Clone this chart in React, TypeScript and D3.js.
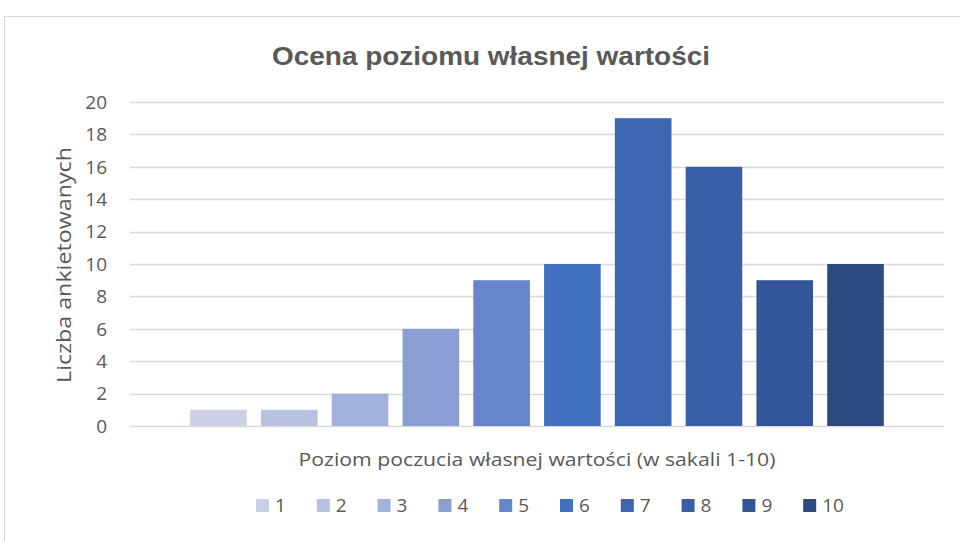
import React, { useEffect, useRef } from 'react'
import * as d3 from 'd3'

const seriesNames = ['1', '2', '3', '4', '5', '6', '7', '8', '9', '10']
const counts = [1, 1, 2, 6, 9, 10, 19, 16, 9, 10]
const barColors = ['#CBD0E6', '#B7C2E1', '#A2B1DB', '#8B9FD4', '#6685CA', '#4371C1', '#3D66B1', '#385EA6', '#33569A', '#2B4B82']
const yTicks = [0, 2, 4, 6, 8, 10, 12, 14, 16, 18, 20]

const W = 960
const H = 541

const App = () => {
  const ref = useRef<SVGSVGElement>(null)

  useEffect(() => {
    const svg = d3.select(ref.current)
    svg.selectAll('*').remove()

    const font = '"Open Sans", "Noto Sans", sans-serif'
    const textColor = '#595959'

    // chart frame
    svg.append('rect')
      .attr('x', 4.5).attr('y', 16.5).attr('width', W + 10).attr('height', H + 10)
      .attr('fill', '#fff').attr('stroke', '#D9D9D9').attr('stroke-width', 1)

    const left = 130, right = 944, top = 102, bottom = 426

    const y = d3.scaleLinear().domain([0, 20]).range([bottom, top])
    const x = d3.scaleBand<string>().domain(seriesNames).range([left, right])
      .paddingInner(0.2).paddingOuter(0.85)

    // gridlines
    svg.append('g').selectAll('line').data(yTicks).enter().append('line')
      .attr('x1', left).attr('x2', right)
      .attr('y1', d => Math.round(y(d)) + 0.5).attr('y2', d => Math.round(y(d)) + 0.5)
      .attr('stroke', '#D9D9D9').attr('stroke-width', 1.3)

    // tick labels
    svg.append('g').selectAll('text').data(yTicks).enter().append('text')
      .attr('x', 107).attr('y', d => y(d)).attr('dy', '0.36em')
      .attr('text-anchor', 'end')
      .style('font-family', font).style('font-size', '19px').style('fill', textColor)
      .text(d => d)

    // bars
    svg.append('g').selectAll('rect').data(counts).enter().append('rect')
      .attr('x', (d, i) => x(seriesNames[i]) as number)
      .attr('width', x.bandwidth())
      .attr('y', d => y(d))
      .attr('height', d => y(0) - y(d))
      .attr('fill', (d, i) => barColors[i])

    // title
    svg.append('text')
      .attr('x', 491).attr('y', 65).attr('text-anchor', 'middle')
      .attr('textLength', 438).attr('lengthAdjust', 'spacingAndGlyphs')
      .style('font-family', '"Liberation Sans", Arial, sans-serif')
      .style('font-weight', 'bold').style('font-size', '25px').style('fill', textColor)
      .text('Ocena poziomu własnej wartości')

    // y axis title
    svg.append('text')
      .attr('transform', 'translate(71,265) rotate(-90)')
      .attr('text-anchor', 'middle')
      .attr('textLength', 236).attr('lengthAdjust', 'spacingAndGlyphs')
      .style('font-family', font).style('font-size', '20px').style('fill', textColor)
      .text('Liczba ankietowanych')

    // x axis title
    svg.append('text')
      .attr('x', 537).attr('y', 466).attr('text-anchor', 'middle')
      .attr('textLength', 477).attr('lengthAdjust', 'spacingAndGlyphs')
      .style('font-family', font).style('font-size', '18px').style('fill', textColor)
      .text('Poziom poczucia własnej wartości (w sakali 1-10)')

    // legend
    const legend = svg.append('g').selectAll('g').data(seriesNames).enter().append('g')
      .attr('transform', (d, i) => `translate(${256 + i * 60.8},499)`)
    legend.append('rect')
      .attr('width', 13).attr('height', 13)
      .attr('fill', (d, i) => barColors[i])
    legend.append('text')
      .attr('x', 19).attr('y', 6.5).attr('dy', '0.36em')
      .style('font-family', font).style('font-size', '19px').style('fill', textColor)
      .text(d => d)
  }, [])

  return (
    <svg ref={ref} width={W} height={H}
      style={{ position: 'absolute', left: 0, top: 0, background: '#fff' }} />
  )
}

export default App
